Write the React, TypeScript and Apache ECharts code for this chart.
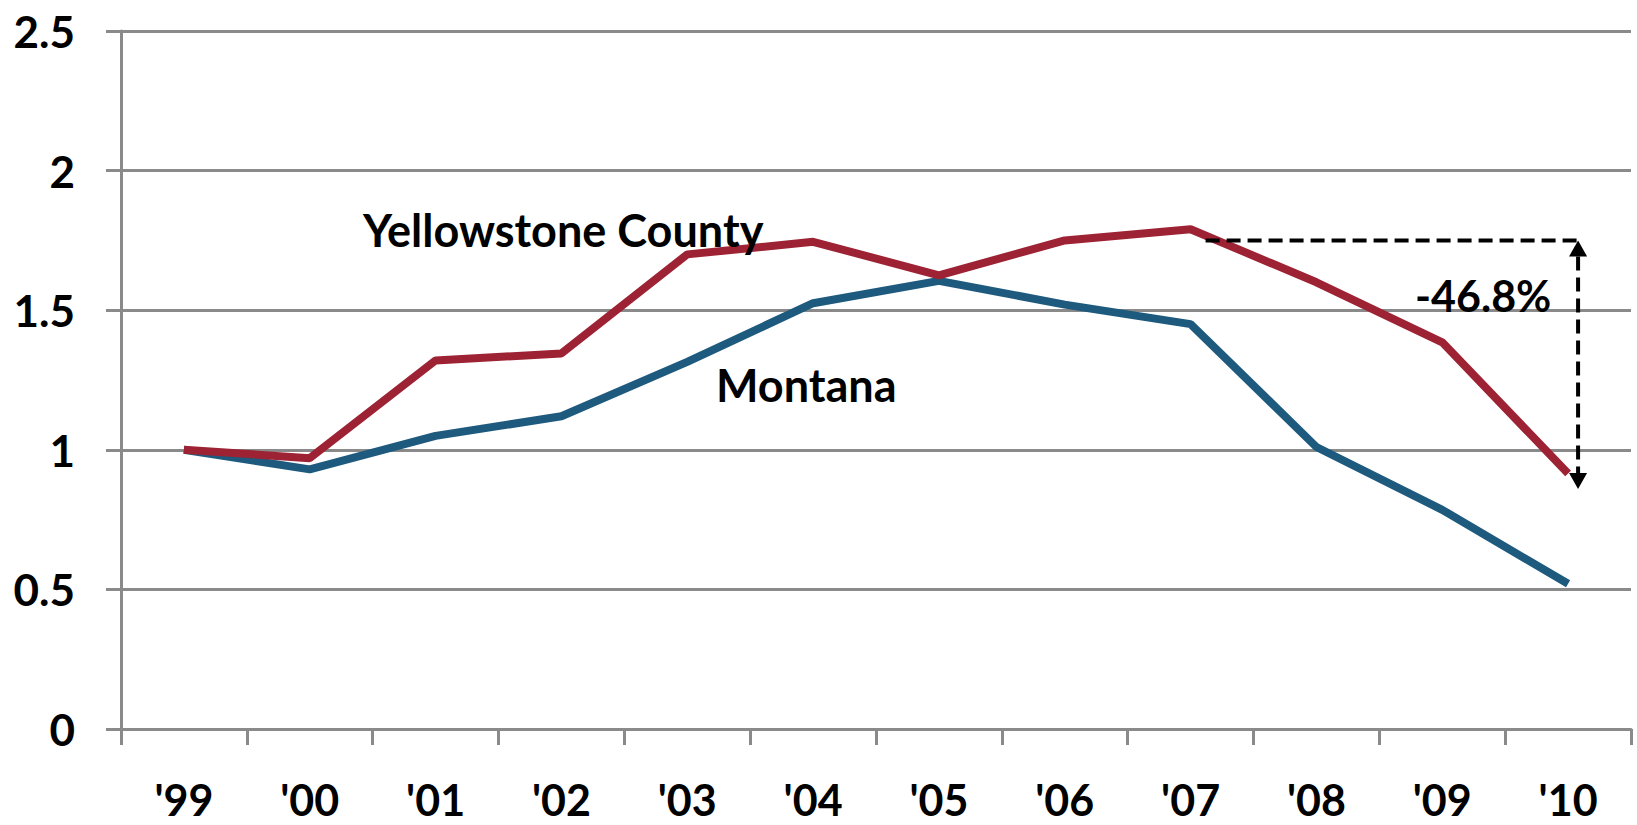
import React, { useEffect, useRef } from "react";
import * as echarts from "echarts";

const categories = ["'99", "'00", "'01", "'02", "'03", "'04", "'05", "'06", "'07", "'08", "'09", "'10"];
const yellowstone = [1.0, 0.97, 1.32, 1.345, 1.70, 1.745, 1.625, 1.75, 1.79, 1.60, 1.385, 0.915];
const montana = [1.0, 0.93, 1.05, 1.12, 1.315, 1.525, 1.605, 1.52, 1.45, 1.01, 0.785, 0.52];
const yTicks = { min: 0, max: 2.5, interval: 0.5 };
const annotationLabels = { county: "Yellowstone County", state: "Montana", change: "-46.8%" };
const changeFrom = 1.75;
const changeTo = 0.86;

const RED = "#9d2334";
const BLUE = "#1d5a7e";
const GRID = "#8a8a8a";
const FONT = "Lato, 'Open Sans', sans-serif";

export default function App() {
  const ref = useRef<HTMLDivElement>(null);
  useEffect(() => {
    if (!ref.current) return;
    const chart = echarts.init(ref.current, undefined, { renderer: "svg" });
    const option: any = {
      animation: false,
      backgroundColor: "#ffffff",
      grid: { left: 121, right: 6, top: 31, bottom: 96, containLabel: false },
      xAxis: {
        type: "category",
        data: categories,
        boundaryGap: true,
        axisLine: { show: true, lineStyle: { color: GRID, width: 3 } },
        axisTick: { show: true, length: 16, lineStyle: { color: GRID, width: 3 } },
        axisLabel: {
          color: "#000",
          fontFamily: FONT,
          fontWeight: "bold",
          fontSize: 43,
          lineHeight: 42,
          margin: 49,
        },
        splitLine: { show: false },
      },
      yAxis: {
        type: "value",
        min: yTicks.min,
        max: yTicks.max,
        interval: yTicks.interval,
        axisLine: { show: true, lineStyle: { color: GRID, width: 3 } },
        axisTick: { show: true, length: 15, lineStyle: { color: GRID, width: 3 } },
        axisLabel: {
          color: "#000",
          fontFamily: FONT,
          fontWeight: "bold",
          fontSize: 44,
          margin: 46,
          formatter: (v: number) => String(v),
        },
        splitLine: { show: true, lineStyle: { color: GRID, width: 3 } },
      },
      series: [
        {
          name: "Yellowstone County",
          type: "line",
          data: yellowstone,
          symbol: "none",
          lineStyle: { color: RED, width: 8 },
          itemStyle: { color: RED },
          z: 3,
        },
        {
          name: "Montana",
          type: "line",
          data: montana,
          symbol: "none",
          lineStyle: { color: BLUE, width: 8 },
          itemStyle: { color: BLUE },
          z: 2,
        },
      ],
    };
    chart.setOption(option);

    const pStart = chart.convertToPixel({ gridIndex: 0 }, [8, changeFrom]) as number[];
    const pEnd = chart.convertToPixel({ gridIndex: 0 }, [11, changeTo]) as number[];
    const yTop = pStart[1];
    const yBot = pEnd[1];
    const xArrow = pEnd[0] + 10;
    const xStart = pStart[0] + 15;
    const ah = 16;
    const aw = 9;
    const textStyle = { fill: "#000", fontFamily: FONT, fontWeight: "bold", fontSize: 45 } as any;

    chart.setOption({
      graphic: [
        {
          type: "line",
          shape: { x1: xStart, y1: yTop, x2: xArrow, y2: yTop },
          style: { stroke: "#000", lineWidth: 4, lineDash: [14, 7] },
          z: 10,
        },
        {
          type: "line",
          shape: { x1: xArrow, y1: yTop + ah, x2: xArrow, y2: yBot - ah },
          style: { stroke: "#000", lineWidth: 4, lineDash: [14, 7] },
          z: 10,
        },
        {
          type: "polygon",
          shape: { points: [[xArrow, yTop], [xArrow - aw, yTop + ah], [xArrow + aw, yTop + ah]] },
          style: { fill: "#000" },
          z: 10,
        },
        {
          type: "polygon",
          shape: { points: [[xArrow, yBot], [xArrow - aw, yBot - ah], [xArrow + aw, yBot - ah]] },
          style: { fill: "#000" },
          z: 10,
        },
        {
          type: "text",
          x: 363,
          y: 230,
          style: { ...textStyle, text: annotationLabels.county, textVerticalAlign: "middle", textAlign: "left" },
          z: 10,
        },
        {
          type: "text",
          x: 716,
          y: 385,
          style: { ...textStyle, text: annotationLabels.state, textVerticalAlign: "middle", textAlign: "left" },
          z: 10,
        },
        {
          type: "text",
          x: 1415,
          y: 295,
          style: { ...textStyle, fontSize: 43, text: annotationLabels.change, textVerticalAlign: "middle", textAlign: "left" },
          z: 10,
        },
      ],
    });

    return () => chart.dispose();
  }, []);
  return (
    <div
      ref={ref}
      style={{ position: "fixed", left: 0, top: 0, width: 1637, height: 825, background: "#fff" }}
    />
  );
}
